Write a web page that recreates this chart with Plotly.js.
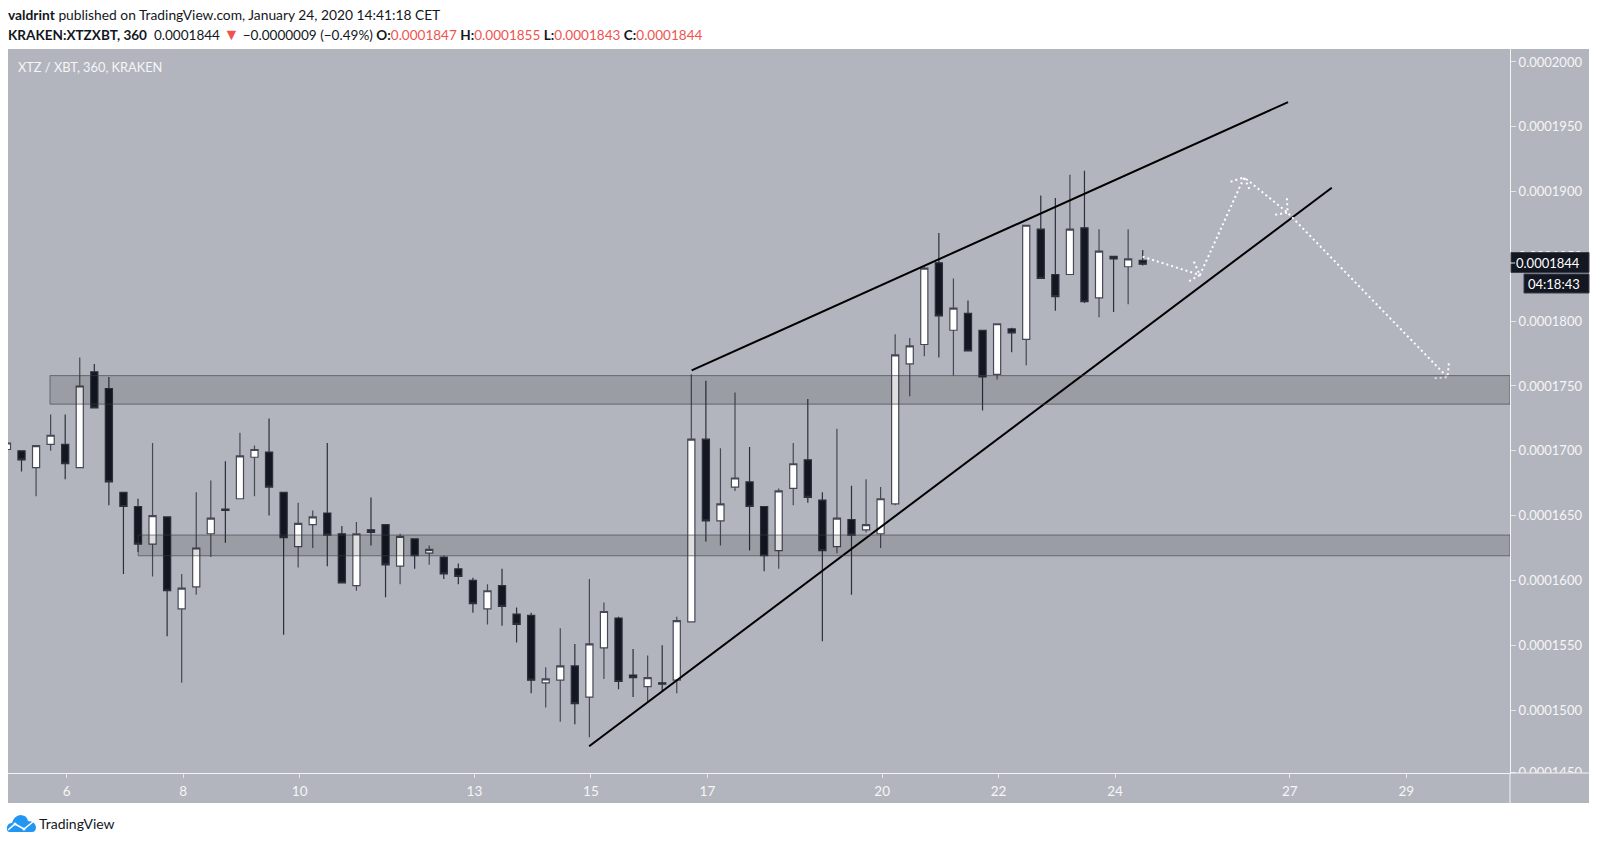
<!DOCTYPE html>
<html><head><meta charset="utf-8">
<script src="https://cdn.plot.ly/plotly-3.0.1.min.js"></script>
<style>html,body{margin:0;padding:0;background:#fff;overflow:hidden}#c{width:1597px;height:844px}</style>
</head><body><div id="c"></div>
<script>
const candleDay=[5,5.25,5.5,5.75,6,6.25,6.5,6.75,7,7.25,7.5,7.75,8,8.25,8.5,8.75,9,9.25,9.5,9.75,10,10.25,10.5,10.75,11,11.25,11.5,11.75,12,12.25,12.5,12.75,13,13.25,13.5,13.75,14,14.25,14.5,14.75,15,15.25,15.5,15.75,16,16.25,16.5,16.75,17,17.25,17.5,17.75,18,18.25,18.5,18.75,19,19.25,19.5,19.75,20,20.25,20.5,20.75,21,21.25,21.5,21.75,22,22.25,22.5,22.75,23,23.25,23.5,23.75,24,24.25,24.5];
const openPrice=[0.0001701,0.0001700,0.0001687,0.0001705,0.0001705,0.0001687,0.0001761,0.0001748,0.0001668,0.0001657,0.0001628,0.0001649,0.0001578,0.0001595,0.0001636,0.0001655,0.0001663,0.0001695,0.0001699,0.0001668,0.0001626,0.0001643,0.0001652,0.0001636,0.0001596,0.0001639,0.0001643,0.0001611,0.0001632,0.0001621,0.0001618,0.0001609,0.0001600,0.0001578,0.0001596,0.0001574,0.0001573,0.0001521,0.0001523,0.0001534,0.0001510,0.0001548,0.0001571,0.0001527,0.0001518,0.0001521,0.0001523,0.0001568,0.0001709,0.0001646,0.0001672,0.0001676,0.0001657,0.0001623,0.0001671,0.0001693,0.0001662,0.0001626,0.0001647,0.0001639,0.0001636,0.0001659,0.0001767,0.0001782,0.0001845,0.0001793,0.0001806,0.0001793,0.0001759,0.0001794,0.0001786,0.0001871,0.0001836,0.0001836,0.0001872,0.0001818,0.0001850,0.0001842,0.0001847];
const highPrice=[0.0001707,0.0001700,0.0001704,0.0001728,0.0001728,0.0001772,0.0001767,0.0001757,0.0001668,0.0001663,0.0001706,0.0001649,0.0001605,0.0001668,0.0001677,0.0001692,0.0001714,0.0001704,0.0001725,0.0001668,0.0001660,0.0001654,0.0001706,0.0001642,0.0001645,0.0001664,0.0001643,0.0001636,0.0001632,0.0001627,0.0001619,0.0001613,0.0001602,0.0001597,0.0001609,0.0001579,0.0001575,0.0001533,0.0001563,0.0001551,0.0001601,0.0001583,0.0001572,0.0001547,0.0001542,0.0001550,0.0001572,0.0001759,0.0001754,0.0001702,0.0001745,0.0001703,0.0001657,0.0001671,0.0001706,0.0001740,0.0001668,0.0001717,0.0001673,0.0001678,0.0001672,0.0001790,0.0001787,0.0001842,0.0001868,0.0001833,0.0001816,0.0001793,0.0001798,0.0001795,0.0001874,0.0001897,0.0001895,0.0001913,0.0001916,0.0001871,0.0001850,0.0001871,0.0001855];
const lowPrice=[0.0001701,0.0001684,0.0001665,0.0001700,0.0001678,0.0001687,0.0001733,0.0001658,0.0001605,0.0001622,0.0001603,0.0001557,0.0001521,0.0001589,0.0001618,0.0001629,0.0001663,0.0001665,0.0001650,0.0001558,0.0001610,0.0001625,0.0001611,0.0001598,0.0001592,0.0001627,0.0001587,0.0001597,0.0001609,0.0001612,0.0001601,0.0001597,0.0001575,0.0001566,0.0001565,0.0001552,0.0001513,0.0001502,0.0001491,0.0001489,0.0001479,0.0001524,0.0001516,0.0001510,0.0001506,0.0001514,0.0001513,0.0001568,0.0001630,0.0001627,0.0001669,0.0001623,0.0001607,0.0001609,0.0001658,0.0001660,0.0001553,0.0001621,0.0001589,0.0001637,0.0001625,0.0001658,0.0001742,0.0001773,0.0001772,0.0001758,0.0001777,0.0001731,0.0001755,0.0001776,0.0001766,0.0001833,0.0001808,0.0001836,0.0001814,0.0001803,0.0001807,0.0001813,0.0001843];
const closePrice=[0.0001706,0.0001693,0.0001704,0.0001712,0.0001690,0.0001750,0.0001733,0.0001676,0.0001657,0.0001628,0.0001650,0.0001592,0.0001594,0.0001625,0.0001648,0.0001654,0.0001696,0.0001701,0.0001672,0.0001633,0.0001644,0.0001649,0.0001635,0.0001598,0.0001636,0.0001637,0.0001612,0.0001634,0.0001619,0.0001624,0.0001605,0.0001603,0.0001582,0.0001592,0.0001580,0.0001566,0.0001523,0.0001524,0.0001534,0.0001505,0.0001551,0.0001576,0.0001522,0.0001525,0.0001525,0.0001520,0.0001569,0.0001709,0.0001646,0.0001659,0.0001679,0.0001657,0.0001619,0.0001669,0.0001690,0.0001664,0.0001623,0.0001648,0.0001635,0.0001643,0.0001663,0.0001774,0.0001781,0.0001841,0.0001804,0.0001810,0.0001777,0.0001757,0.0001798,0.0001791,0.0001874,0.0001833,0.0001819,0.0001871,0.0001815,0.0001854,0.0001848,0.0001848,0.0001844];

const xTickDays=[6,8,10,13,15,17,20,22,24,27,29];
const xTickLabels=['6','8','10','13','15','17','20','22','24','27','29'];
const yTickPrices=[0.000145,0.00015,0.000155,0.00016,0.000165,0.00017,0.000175,0.00018,0.000185,0.00019,0.000195,0.0002];

const upperZonePrice=[0.0001736,0.0001758];
const upperZoneStartDay=5.713;
const lowerZonePrice=[0.0001619,0.0001635];
const lowerZoneStartDay=7.227;

const supportDay=[14.97,27.72];
const supportPrice=[0.0001472,0.0001903];
const resistanceDay=[16.73,26.97];
const resistancePrice=[0.0001762,0.0001969];

const pathDay=[24.472,25.456,26.216,26.962,29.708];
const pathPrice=[0.00018498,0.00018356,0.0001911,0.00018837,0.00017567];
const head1Day=[25.353,25.456,25.245];
const head1Price=[0.00018459,0.00018356,0.00018302];
const head2Day=[25.983,26.216,26.314];
const head2Price=[0.00019076,0.0001911,0.00019012];
const head3Day=[26.95,26.962,26.714];
const head3Price=[0.00018948,0.00018837,0.00018819];
const head4Day=[29.73,29.708,29.461];
const head4Price=[0.00017675,0.00017567,0.00017559];

const lastPrice=0.0001844;
const countdown='04:18:43';
const chartTitle='XTZ / XBT, 360, KRAKEN';

// page geometry
const L=8,R=1510,T=49,B=773,ER=1589,EB=803;
const PX=x=>(x-L)/(R-L), PY=y=>(B-y)/(B-T);
const FONT='Lato, "Open Sans", sans-serif';
const TEXT='#131722', RED='#ef5350', LABEL='#f6f6f7', AXIS='#f4f4f4';
const Y_RANGE=[0.00014514,0.00020100];
const CANDLE_SHIFT=0.026; // bars sit just left of the tick in the source chart

const dotted={color:'#ffffff',width:2,dash:'2px,3px'};
const lineTrace=(x,y,line)=>({type:'scatter',mode:'lines',x,y,line,hoverinfo:'skip',showlegend:false});

const traces=[
 {type:'candlestick',x:candleDay.map(d=>d-CANDLE_SHIFT),open:openPrice,high:highPrice,low:lowPrice,close:closePrice,width:0.165,whiskerwidth:0,
  increasing:{fillcolor:'#ffffff',line:{color:'#454955',width:1.2}},
  decreasing:{fillcolor:'#131722',line:{color:'#2c303c',width:1.2}},hoverinfo:'skip',showlegend:false},
 lineTrace(supportDay,supportPrice,{color:'#000000',width:2}),
 lineTrace(resistanceDay,resistancePrice,{color:'#000000',width:2}),
 lineTrace(pathDay,pathPrice,dotted),
 lineTrace(head1Day,head1Price,dotted),
 lineTrace(head2Day,head2Price,dotted),
 lineTrace(head3Day,head3Price,dotted),
 lineTrace(head4Day,head4Price,dotted)
];

const paperRect=(x0,y0,x1,y1,color,layer,line)=>({type:'rect',xref:'paper',yref:'paper',x0:PX(x0),x1:PX(x1),y0:PY(y0),y1:PY(y1),fillcolor:color,line:line||{width:0},layer});
const paperLine=(x0,y0,x1,y1,color,width)=>({type:'line',xref:'paper',yref:'paper',x0:PX(x0),x1:PX(x1),y0:PY(y0),y1:PY(y1),line:{color,width},layer:'above'});
const zone=(start,p)=>({type:'rect',xref:'x',yref:'y',x0:start,x1:30.78,y0:p[0],y1:p[1],fillcolor:'rgba(0,0,0,0.13)',line:{color:'rgba(60,60,65,0.6)',width:1},layer:'above'});
const pxPath=d=>d.replace(/(-?[\d.]+),(-?[\d.]+)/g,(m,a,b)=>PX(+a).toFixed(5)+','+PY(+b).toFixed(5));

const boxLine={color:'#3a3e4b',width:1};
const shapes=[
 paperRect(R,T,ER,EB,'#b2b5be','below'),
 paperRect(L,B,R,EB,'#b2b5be','below'),
 zone(upperZoneStartDay,upperZonePrice),
 zone(lowerZoneStartDay,lowerZonePrice),
 paperRect(R+1,B,ER,EB,'#b2b5be','above'),
 paperLine(R,B,ER,B,AXIS,1),
 paperLine(R,B,R,EB,AXIS,1),
 paperRect(R+1,252.5,ER,272.5,'#131722','above',boxLine),
 paperRect(1524,274,ER,293,'#131722','above',boxLine),
 paperLine(R,263,R+5,263,'#e6e6e6',1),
 {type:'path',xref:'paper',yref:'paper',layer:'above',fillcolor:'#2196f3',line:{width:0},
  path:pxPath('M 10,832 Q 6,832 7,827 Q 8,823 12,823 Q 14,816 20,815 Q 27,815 28,821 Q 35,821 36,827 Q 36,832 32,832 Z')},
 {type:'path',xref:'paper',yref:'paper',layer:'above',line:{color:'#ffffff',width:1.5},
  path:pxPath('M 8,830 L 15,824 L 24,829 L 34,821')},
 {type:'circle',xref:'paper',yref:'paper',layer:'above',fillcolor:'#ffffff',line:{width:0},x0:PX(13.5),x1:PX(16.5),y0:PY(822.5),y1:PY(825.5)},
 {type:'circle',xref:'paper',yref:'paper',layer:'above',fillcolor:'#ffffff',line:{width:0},x0:PX(22.5),x1:PX(25.5),y0:PY(827.5),y1:PY(830.5)}
];

const note=(x,y,text,size,color,anchor)=>({xref:'paper',yref:'paper',x:PX(x),y:PY(y),text,showarrow:false,xanchor:anchor||'left',yanchor:'middle',align:'left',borderpad:0,font:{family:FONT,size,color}});
const red=s=>`<span style="color:${RED}">${s}</span>`;
const tri=`<span style="color:${RED};font-size:16px">▼</span>`;

const annotations=[
 note(7,15,'<b>valdrint</b> published on TradingView.com, January 24, 2020 14:41:18 CET',13.8,TEXT),
 note(7,33,`<b>KRAKEN:XTZXBT, 360</b>  0.0001844 ${tri} −0.0000009 (−0.49%) <b>O:</b>${red('0.0001847')} <b>H:</b>${red('0.0001855')} <b>L:</b>${red('0.0001843')} <b>C:</b>${red('0.0001844')}`,13.55,TEXT),
 note(17,67,chartTitle,12.8,LABEL),
 note(1581,263,lastPrice.toFixed(7),13,'#ffffff','right'),
 note(1581,284,countdown,13,'#ffffff','right'),
 note(38,823,'TradingView',14,TEXT)
];

const layout={
 width:1597,height:844,autosize:false,
 margin:{l:L,r:1597-R,t:T,b:844-B,pad:0},
 paper_bgcolor:'#ffffff',plot_bgcolor:'#b2b5be',showlegend:false,dragmode:false,
 font:{family:FONT},
 xaxis:{type:'linear',range:[4.992,30.78],rangeslider:{visible:false},tickmode:'array',tickvals:xTickDays,ticktext:xTickLabels,
  showgrid:false,zeroline:false,showline:true,linecolor:AXIS,linewidth:1,ticks:'outside',ticklen:4,tickcolor:'#e6e6e6',
  tickfont:{family:FONT,size:13.5,color:LABEL},ticklabelstandoff:2},
 yaxis:{side:'right',range:Y_RANGE,tickmode:'array',
  // the lowest label sits on the axis edge and is cut by it, so it is held just inside the range
  tickvals:yTickPrices.map(v=>Math.max(v,Y_RANGE[0]+1e-8)),ticktext:yTickPrices.map(v=>v.toFixed(7)),
  showgrid:false,zeroline:false,showline:true,linecolor:AXIS,linewidth:1,ticks:'outside',ticklen:5,tickcolor:'#e6e6e6',
  tickfont:{family:FONT,size:13,color:LABEL}},
 shapes,annotations
};
Plotly.newPlot('c',traces,layout,{displayModeBar:false,staticPlot:true});
</script></body></html>
